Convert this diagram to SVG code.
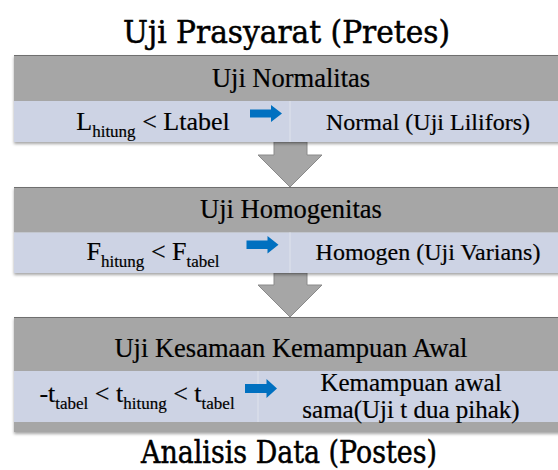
<svg xmlns="http://www.w3.org/2000/svg" width="558" height="470" viewBox="0 0 558 470">
<defs>
<filter id="sh" x="-5%" y="-10%" width="110%" height="130%">
<feDropShadow dx="0" dy="2" stdDeviation="1.5" flood-color="#000" flood-opacity="0.35"/>
</filter>
<style>
.title{font-family:DejaVu Serif,serif;font-size:31px;fill:#000;stroke:#000;stroke-width:0.5;text-anchor:middle}
.hd{fill:#a6a6a6}
.row{fill:#cdd3e4}
.div{stroke:#d9deea;stroke-width:1.5}
.top{stroke:#6f6f6f;stroke-width:1}
.t{font-family:Liberation Serif,Times New Roman,serif;fill:#000;stroke:#000;stroke-width:0.2;text-anchor:middle}
.ht{font-size:26.5px}
.lt{font-size:26px}
.rt{font-size:24px}
.r3{font-size:25px}
.sub{font-size:17px}
.blue{fill:#0070c0}
.down{fill:#a6a6a6;stroke:#8a8a8a;stroke-width:1}
</style>
</defs>

<text class="title" x="286.5" y="43" textLength="327" lengthAdjust="spacingAndGlyphs">Uji Prasyarat (Pretes)</text>

<g id="connectors">
<path class="down" d="M274,142 H307 V155 H322 L290,187 L258,155 H274 Z"/>
<path class="down" d="M274,273 H307 V285 H322 L290,317 L258,285 H274 Z"/>
</g>

<g id="box1">
<g filter="url(#sh)">
<rect class="hd" x="14" y="55" width="570" height="46"/>
<rect class="row" x="14" y="101" width="570" height="41"/>
</g>
<line class="top" x1="14" y1="55.5" x2="584" y2="55.5"/>
<line class="div" x1="290" y1="101" x2="290" y2="142"/>
<text class="t ht" x="291" y="87">Uji Normalitas</text>
<text class="t lt" x="153" y="130">L<tspan class="sub" dy="7">hitung</tspan><tspan dy="-7"> &lt; Ltabel</tspan></text>
<path class="blue" d="M250,109.5 H271 V105 L282,113.5 L271,122 V117.5 H250 Z"/>
<text class="t rt" x="428" y="130">Normal (Uji Lilifors)</text>
</g>

<g id="box2">
<g filter="url(#sh)">
<rect class="hd" x="14" y="187" width="570" height="45.5"/>
<rect class="row" x="14" y="232.5" width="570" height="40.5"/>
</g>
<line class="top" x1="14" y1="187.5" x2="584" y2="187.5"/>
<line class="div" x1="290" y1="232.5" x2="290" y2="273"/>
<text class="t ht" x="291" y="217.5">Uji Homogenitas</text>
<text class="t lt" x="153" y="260">F<tspan class="sub" dy="7">hitung</tspan><tspan dy="-7"> &lt; F</tspan><tspan class="sub" dy="7">tabel</tspan></text>
<path class="blue" d="M246.5,240.5 H267.5 V236 L278.5,244.75 L267.5,253.5 V249 H246.5 Z"/>
<text class="t rt" x="428" y="260">Homogen (Uji Varians)</text>
</g>

<g id="box3">
<g filter="url(#sh)">
<rect class="hd" x="14" y="317" width="570" height="115"/>
<rect class="row" x="14" y="371" width="570" height="51"/>
</g>
<line class="top" x1="14" y1="317.5" x2="584" y2="317.5"/>
<line class="div" x1="258" y1="371" x2="258" y2="422"/>
<text class="t ht" x="291" y="357">Uji Kesamaan Kemampuan Awal</text>
<text class="t lt" x="137" y="402">-t<tspan class="sub" dy="7">tabel</tspan><tspan dy="-7"> &lt; t</tspan><tspan class="sub" dy="7">hitung</tspan><tspan dy="-7"> &lt; t</tspan><tspan class="sub" dy="7">tabel</tspan></text>
<path class="blue" d="M245,384 H266.5 V379 L277,388.5 L266.5,398 V393 H245 Z"/>
<text class="t r3" x="411" y="391">Kemampuan awal</text>
<text class="t r3" x="411" y="418">sama(Uji t  dua pihak)</text>
</g>

<text class="title" x="289" y="463" textLength="296" lengthAdjust="spacingAndGlyphs">Analisis Data (Postes)</text>
</svg>
